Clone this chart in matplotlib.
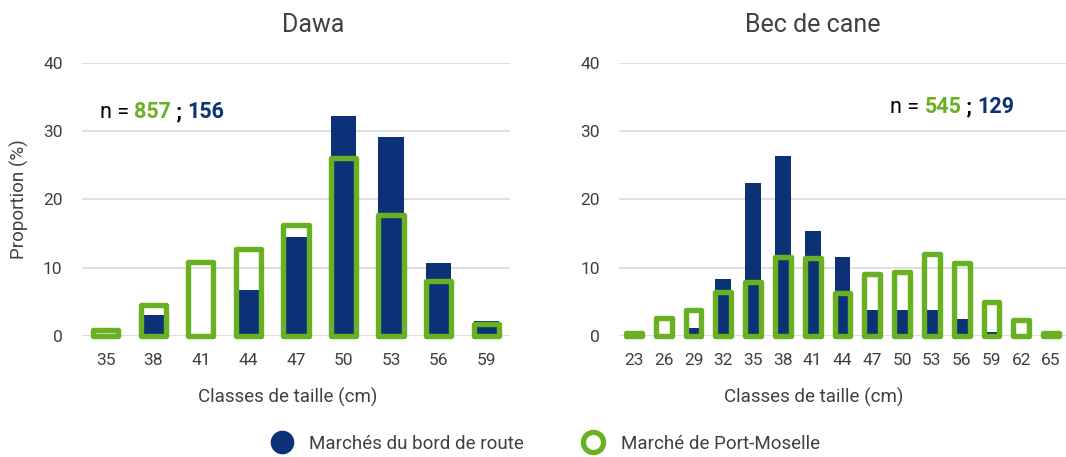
import matplotlib
matplotlib.use("Agg")
import matplotlib.pyplot as plt
import numpy as np
from matplotlib.lines import Line2D
from matplotlib.offsetbox import AnchoredOffsetbox, HPacker, TextArea

plt.rcParams["font.family"] = ["Roboto", "DejaVu Sans"]

BLUE = "#0d3177"
GREEN = "#6ab023"
TEXT = "#404040"

# Dawa
dawa_classes = ["35", "38", "41", "44", "47", "50", "53", "56", "59"]
dawa_route = [0, 3.0, 0, 6.8, 14.5, 32.2, 29.1, 10.7, 2.2]
dawa_port = [0.9, 4.6, 10.9, 12.7, 16.3, 26.0, 17.7, 8.0, 1.7]
dawa_n = ("857", "156")

# Bec de cane
bec_classes = ["23", "26", "29", "32", "35", "38", "41", "44", "47", "50",
               "53", "56", "59", "62", "65"]
bec_route = [0, 0, 1.2, 8.3, 22.4, 26.3, 15.3, 11.5, 3.8, 3.8, 3.8, 2.5, 0.6, 0, 0]
bec_port = [0.5, 2.6, 3.8, 6.5, 7.9, 11.5, 11.4, 6.3, 9.0, 9.3, 12.0, 10.7, 5.0, 2.3, 0.5]
bec_n = ("545", "129")


def draw_panel(ax, title, classes, route, port, n_pair, n_pos, title_x, xlabel_x):
	x = np.arange(len(classes))
	ax.bar(x, route, width=0.53, color=BLUE, zorder=2, clip_on=False)
	ax.bar(x, port, width=0.53, facecolor="none", edgecolor=GREEN,
		linewidth=3.9, joinstyle="round", zorder=3, clip_on=False)
	ax.set_xlim(-0.5, len(classes) - 0.5)
	ax.set_ylim(0, 40)
	ax.set_yticks([0, 10, 20, 30, 40])
	ax.set_xticks(x)
	ax.set_xticklabels(classes)
	ax.grid(axis="y", color="#d9d9d9", linewidth=1.2, zorder=0)
	ax.set_axisbelow(True)
	for side in ["top", "right", "left", "bottom"]:
		ax.spines[side].set_visible(False)
	ax.tick_params(axis="both", length=0, labelsize=12.5, colors=TEXT)
	ax.tick_params(axis="x", pad=12)
	ax.tick_params(axis="y", pad=14)
	ax.set_title(title, fontsize=18, color=TEXT, x=title_x, pad=22)
	ax.set_xlabel("Classes de taille (cm)", fontsize=13.5, color=TEXT)
	ax.xaxis.set_label_coords(xlabel_x, -0.19)

	parts = [
		TextArea("n = ", textprops=dict(color="black", fontsize=15.5)),
		TextArea(n_pair[0], textprops=dict(color=GREEN, fontsize=15.5, fontweight="bold")),
		TextArea(" ; ", textprops=dict(color="black", fontsize=15.5, fontweight="bold")),
		TextArea(n_pair[1], textprops=dict(color=BLUE, fontsize=15.5, fontweight="bold")),
	]
	box = HPacker(children=parts, align="baseline", pad=0, sep=0)
	anchored = AnchoredOffsetbox(loc="center left", child=box, pad=0, frameon=False,
		bbox_to_anchor=n_pos, bbox_transform=ax.transAxes, borderpad=0)
	ax.add_artist(anchored)


fig = plt.figure(figsize=(10.66, 4.57), dpi=100)
ax1 = fig.add_axes([0.0769, 0.2648, 0.4015, 0.598])
ax2 = fig.add_axes([0.5807, 0.2648, 0.4193, 0.598])

draw_panel(ax1, "Dawa", dawa_classes, dawa_route, dawa_port, dawa_n,
	(0.042, 0.82), 0.54, 0.48)
draw_panel(ax2, "Bec de cane", bec_classes, bec_route, bec_port, bec_n,
	(0.606, 0.838), 0.434, 0.435)
ax1.set_ylabel("Proportion (%)", fontsize=13.5, color=TEXT, labelpad=10)

handles = [
	Line2D([], [], linestyle="none", marker="o", markersize=16,
		markerfacecolor=BLUE, markeredgecolor=BLUE),
	Line2D([], [], linestyle="none", marker="o", markersize=14.5,
		markerfacecolor="white", markeredgecolor=GREEN, markeredgewidth=3.8),
]
fig.legend(handles, ["Marchés du bord de route", "Marché de Port-Moselle"],
	loc="lower center", bbox_to_anchor=(0.508, -0.028), ncol=2, frameon=False,
	fontsize=13.5, labelcolor=TEXT, handletextpad=0.45, columnspacing=2.7)

fig.savefig("out.png", dpi=100)
plt.close(fig)
